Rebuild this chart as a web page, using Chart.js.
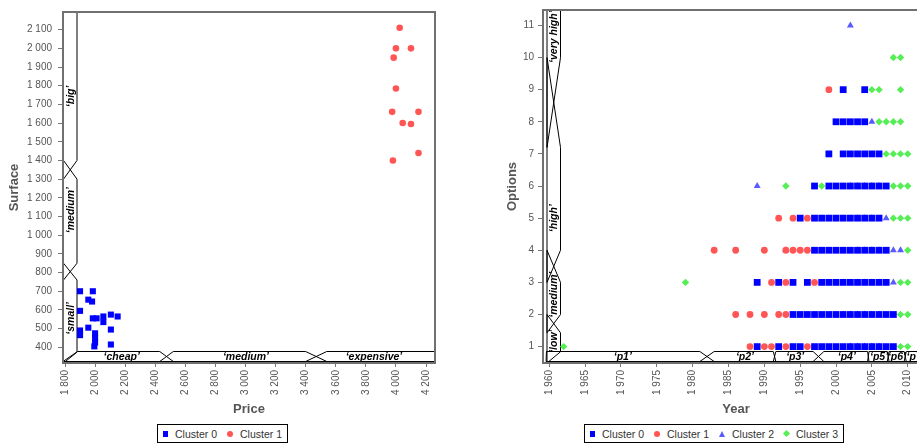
<!DOCTYPE html>
<html>
<head>
<meta charset="utf-8">
<script src="https://cdn.jsdelivr.net/npm/chart.js@4.4.1/dist/chart.umd.min.js"></script>
<style>
  html, body { margin: 0; padding: 0; background: #fff; overflow: hidden; width: 917px; height: 446px; }
  canvas { position: absolute; top: 0; }
  #houses { left: 0; }
  #cars { left: 498px; }
  .legend { position: absolute; top: 424px; height: 19px; box-sizing: border-box; border: 1px solid #000;
    display: flex; align-items: center; justify-content: center; background: #fff;
    font: 10.5px "Liberation Sans", Arial, sans-serif; color: #333; }
  .legend .mk { display: inline-block; margin-right: 7px; }
  .legend .it { margin-right: 10px; }
  .legend .it:last-child { margin-right: 0; }
  .sq { width: 5px; height: 6px; background: #0000ff; }
  .ci { width: 6px; height: 6px; border-radius: 50%; background: #ff5555; }
  .tr { width: 0; height: 0; border-left: 3.5px solid transparent; border-right: 3.5px solid transparent; border-bottom: 6px solid #5a5aff; }
  .di { width: 5px; height: 5px; background: #55ee55; transform: rotate(45deg); }
</style>
</head>
<body>
<canvas id="houses" width="444" height="420"></canvas>
<canvas id="cars" width="440" height="420"></canvas>
<div class="legend" style="left:157px;width:131px">
  <span class="mk sq"></span><span class="it">Cluster 0</span>
  <span class="mk ci"></span><span class="it">Cluster 1</span>
</div>
<div class="legend" style="left:584px;width:260px">
  <span class="mk sq"></span><span class="it">Cluster 0</span>
  <span class="mk ci"></span><span class="it">Cluster 1</span>
  <span class="mk tr"></span><span class="it">Cluster 2</span>
  <span class="mk di"></span><span class="it">Cluster 3</span>
</div>
<script>
// ---- left chart: houses, [price, surface]
const houseC0 = [[1900,700],[1985,700],[1955,655],[1980,645],[1900,595],[1985,555],[2010,555],[2055,565],
  [2055,535],[2105,575],[2150,565],[1955,505],[1900,490],[1900,465],[2000,475],[2000,450],[2000,425],
  [1995,405],[2105,495],[2105,415]];
const houseC1 = [[4025,2110],[4000,2000],[4100,2000],[3985,1950],[4000,1785],[3975,1660],[4150,1660],
  [4045,1600],[4100,1595],[4150,1440],[3980,1400]];

// fuzzy partitions: [support start, core start, core end, support end]
const priceSets = [[1786.7,1883,2430,2520],[2430,2520,3400,3540],[3400,3540,4260,4260]];
const priceLabels = ['‘cheap’','‘medium’','‘expensive’'];
const priceLabelAt = [2177,3003,3854];
const surfaceSets = [[316,374,760,850],[760,850,1300,1400],[1300,1400,2195,2195]];
const surfaceLabels = ['‘small’','‘medium’','‘big’'];
const surfaceLabelAt = [555,1134,1743];

// ---- right chart: cars, [year, options]
const carC0 = [
  [1989,1],[1992,1],[1994,1],[1995,1],[1997,1],[1998,1],[1999,1],[2000,1],[2001,1],[2002,1],[2003,1],[2004,1],[2005,1],[2006,1],[2007,1],[2008,1],
  [1994,2],[1995,2],[1996,2],[1997,2],[1998,2],[1999,2],[2000,2],[2001,2],[2002,2],[2003,2],[2004,2],[2005,2],[2006,2],[2007,2],[2008,2],
  [1989,3],[1992,3],[1994,3],[1996,3],[1998,3],[1999,3],[2000,3],[2001,3],[2002,3],[2003,3],[2004,3],[2005,3],[2006,3],[2007,3],
  [1997,4],[1998,4],[1999,4],[2000,4],[2001,4],[2002,4],[2003,4],[2004,4],[2005,4],[2006,4],[2007,4],
  [1995,5],[1997,5],[1998,5],[1999,5],[2000,5],[2001,5],[2002,5],[2003,5],[2004,5],[2005,5],[2006,5],
  [1997,6],[1999,6],[2000,6],[2001,6],[2002,6],[2003,6],[2004,6],[2005,6],[2006,6],[2007,6],
  [1999,7],[2001,7],[2002,7],[2003,7],[2004,7],[2005,7],[2006,7],
  [2000,8],[2001,8],[2002,8],[2003,8],[2004,8],
  [2001,9],[2004,9]
];
const carC1 = [
  [1988,1],[1990,1],[1991,1],[1993,1],[1996,1],
  [1986,2],[1988,2],[1990,2],[1992,2],[1993,2],
  [1991,3],[1993,3],[1997,3],
  [1983,4],[1986,4],[1990,4],[1993,4],[1994,4],[1995,4],[1996,4],
  [1992,5],[1994,5],[1996,5],
  [1999,9]
];
const carC2 = [
  [2002,1],[2003,1],[2004,1],[2005,1],[2006,1],
  [2001,2],[2002,2],[2003,2],[2004,2],[2005,2],[2006,2],
  [2001,3],[2002,3],[2003,3],[2004,3],[2005,3],[2006,3],[2008,3],
  [1993,4],[2003,4],[2004,4],[2005,4],[2006,4],[2008,4],[2009,4],
  [2003,5],[2004,5],[2005,5],[2007,5],
  [1989,6],[2002,6],[2003,6],[2004,6],[2005,6],[2006,6],
  [2005,8],
  [2002,11]
];
const carC3 = [
  [1962,1],[2009,1],[2010,1],
  [2009,2],[2010,2],
  [1979,3],[2009,3],[2010,3],
  [2010,4],
  [2008,5],[2009,5],[2010,5],
  [1993,6],[1998,6],[2008,6],[2009,6],[2010,6],
  [2007,7],[2008,7],[2009,7],[2010,7],
  [2006,8],[2007,8],[2008,8],[2009,8],
  [2005,9],[2006,9],[2009,9],
  [2008,10],[2009,10]
];

const yearSets = [[1959.55,1959.6,1981,1983],[1981,1983,1991.25,1991.6],[1991.25,1991.6,1996.8,1998.3],
  [1996.8,1998.3,2004.4,2004.6],[2004.4,2004.6,2007.15,2007.4],[2007.15,2007.4,2009.5,2009.8],[2009.5,2009.8,2014,2014]];
const yearLabels = ['‘p1’','‘p2’','‘p3’','‘p4’','‘p5’','‘p6’','‘p7’'];
const yearLabelAt = [1970.25,1987.3,1994.3,2001.5,2006.0,2008.5,2011.1];
const optionSets = [[0.49,0.84,1.43,2],[1.43,2,3,4],[3,4,7.2,10],[7.2,10,11.5,11.5]];
const optionLabels = ['‘low’','‘medium’','‘high’','‘very high’'];
const optionLabelAt = [1.17,2.62,5.0,10.65];

const FONT = '"Liberation Sans", Arial, Helvetica, sans-serif';
Chart.defaults.font.family = FONT;

const fmtNum = v => String(Math.round(v)).replace(/\B(?=(\d{3})+(?!\d))/g, ' ');
const toXY = arr => arr.map(([x, y]) => ({ x, y }));

// Fuzzy partition strips along the bottom and the left of the plot area.
const fuzzyBands = {
  id: 'fuzzyBands',
  beforeDatasetsDraw(chart, args, o) {
    const { ctx, chartArea: area, scales } = chart;
    ctx.save();
    ctx.beginPath();
    ctx.rect(area.left, area.top, area.right - area.left, area.bottom - area.top);
    ctx.clip();
    ctx.lineWidth = 1;
    ctx.strokeStyle = '#000';
    ctx.fillStyle = '#000';
    ctx.font = 'italic bold 10.5px ' + FONT;
    ctx.textAlign = 'center';
    ctx.textBaseline = 'middle';

    const yBot = area.bottom - 1.5, yTop = area.bottom - 11.5;
    o.xSets.forEach(s => {
      const [a, b, c, d] = s.map(v => scales.x.getPixelForValue(v));
      ctx.beginPath();
      ctx.moveTo(a, yBot); ctx.lineTo(b, yTop); ctx.lineTo(c, yTop); ctx.lineTo(d, yBot);
      ctx.closePath();
      ctx.stroke();
    });
    o.xLabels.forEach((t, i) => ctx.fillText(t, scales.x.getPixelForValue(o.xLabelAt[i]), (yTop + yBot) / 2 + 0.5));

    const x0 = area.left + o.yOffset, x1 = x0 + 13.5;
    o.ySets.forEach(s => {
      const [a, b, c, d] = s.map(v => scales.y.getPixelForValue(v));
      ctx.beginPath();
      ctx.moveTo(x0, a); ctx.lineTo(x1, b); ctx.lineTo(x1, c); ctx.lineTo(x0, d);
      ctx.closePath();
      ctx.stroke();
    });
    o.yLabels.forEach((t, i) => {
      ctx.save();
      ctx.translate((x0 + x1) / 2 + 0.5, scales.y.getPixelForValue(o.yLabelAt[i]));
      ctx.rotate(-Math.PI / 2);
      ctx.fillText(t, 0, 0);
      ctx.restore();
    });
    ctx.restore();
  },
  afterDatasetsDraw(chart) {
    const { ctx, chartArea: a } = chart;
    ctx.save();
    ctx.strokeStyle = '#707070';
    ctx.lineWidth = 2;
    ctx.strokeRect(a.left, a.top, a.right - a.left, a.bottom - a.top);
    ctx.restore();
  },
};

function linAxis(min, max, step, title, opts) {
  return {
    type: 'linear', min, max,
    title: { display: true, text: title, color: '#555', font: { size: 13, weight: 'bold' }, padding: opts.titlePad },
    ticks: { stepSize: step, includeBounds: false, autoSkip: false, color: '#555', font: { size: 10 },
      padding: opts.tickPad, maxRotation: opts.rot, minRotation: opts.rot, callback: fmtNum },
    grid: { drawOnChartArea: false, tickLength: opts.tickLen, tickColor: '#777' },
    border: { display: false },
    afterFit: opts.fit,
  };
}

function makeChart(id, datasets, xs, ys, bands, yWidth) {
  return new Chart(document.getElementById(id), {
    type: 'scatter',
    data: { datasets },
    options: {
      responsive: false,
      animation: false,
      layout: { padding: { top: 5, right: 9, left: 0, bottom: 0 } },
      scales: {
        x: linAxis(xs[0], xs[1], xs[2], xs[3], { titlePad: { top: 2, bottom: 3 }, tickPad: 3, rot: 90, tickLen: 4,
          fit: s => { s.height = 57; } }),
        y: linAxis(ys[0], ys[1], ys[2], ys[3], { titlePad: { top: 7, bottom: 2 }, tickPad: yWidth > 50 ? 6 : 4, rot: 0, tickLen: 5,
          fit: s => { s.width = yWidth; } }),
      },
      plugins: { legend: { display: false }, tooltip: { enabled: false }, fuzzyBands: bands },
    },
    plugins: [fuzzyBands],
  });
}

makeChart('houses', [
  { label: 'Cluster 0', data: toXY(houseC0), pointStyle: 'rect', pointRadius: 4.3, backgroundColor: '#0000ff', borderWidth: 0 },
  { label: 'Cluster 1', data: toXY(houseC1), pointStyle: 'circle', pointRadius: 3.3, backgroundColor: '#ff5555', borderWidth: 0 },
], [1786.7, 4259.8, 200, 'Price'], [316, 2194.4, 100, 'Surface'], {
  xSets: priceSets, xLabels: priceLabels, xLabelAt: priceLabelAt,
  ySets: surfaceSets, yLabels: surfaceLabels, yLabelAt: surfaceLabelAt, yOffset: 0.5,
}, 63);

makeChart('cars', [
  { label: 'Cluster 0', data: toXY(carC0), pointStyle: 'rect', pointRadius: 4.8, backgroundColor: '#0000ff', borderWidth: 0, order: 2 },
  { label: 'Cluster 1', data: toXY(carC1), pointStyle: 'circle', pointRadius: 3.4, backgroundColor: '#ff5555', borderWidth: 0, order: 0 },
  { label: 'Cluster 2', data: toXY(carC2), pointStyle: 'triangle', pointRadius: 4, backgroundColor: '#5a5aff', borderWidth: 0, order: 3 },
  { label: 'Cluster 3', data: toXY(carC3), pointStyle: 'rectRot', pointRadius: 3.7, backgroundColor: '#55ee55', borderWidth: 0, order: 1 },
], [1959.12, 2012.97, 5, 'Year'], [0.49, 11.48, 1, 'Options'], {
  xSets: yearSets, xLabels: yearLabels, xLabelAt: yearLabelAt,
  ySets: optionSets, yLabels: optionLabels, yLabelAt: optionLabelAt, yOffset: 4,
}, 45);
</script>
</body>
</html>
